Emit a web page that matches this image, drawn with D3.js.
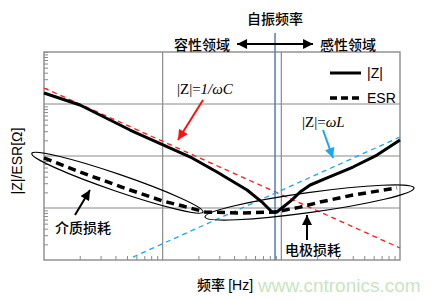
<!DOCTYPE html>
<html>
<head>
<meta charset="utf-8">
<script src="https://cdn.jsdelivr.net/npm/d3@7"></script>
<style>
  body { margin: 0; background: #fff; }
  svg { display: block; }
</style>
</head>
<body>
<svg width="442" height="300"></svg>
<script>
// frequency in MHz, impedance in ohm
const freqZ = [0.01, 0.0201, 0.0531, 0.1007, 0.177, 0.287, 0.514, 0.70, 0.834, 0.918, 1.23, 1.44, 1.75, 2.43, 4.02, 6.4, 10];
const impZ = [16.3, 9.57, 3.16, 1.63, 0.916, 0.492, 0.222, 0.125, 0.0838, 0.0838, 0.143, 0.203, 0.277, 0.378, 0.614, 1.04, 2.03];

const freqESR = [0.01, 0.0201, 0.0531, 0.1007, 0.148, 0.228, 0.449, 0.885, 1.44, 2.12, 4.02, 9.44];
const esr = [0.916, 0.492, 0.222, 0.136, 0.109, 0.0838, 0.080, 0.0838, 0.104, 0.130, 0.178, 0.243];

const capFreq = [0.01, 10];      // |Z| = 1/wC
const capZ = [20.3, 0.017];
const indFreq = [0.0562, 10];    // |Z| = wL
const indZ = [0.0114, 2.32];

const resFreq = 0.885;           // self resonance

// annotation anchors in data units [freq, ohm]
const lossEllipses = [[0.04155, 0.3066], [1.727, 0.1276]];
const arrowTails = [[0.2187, 11.94], [2.244, 3.162], [0.01825, 0.0733], [1.645, 0.02425]];
const arrowTips = [[0.1346, 2.031], [2.725, 0.915], [0.0244, 0.222], [1.645, 0.0733]];
const noteLabels = [[0.01238, 0.033, '介质损耗'], [1.073, 0.01248, '电极损耗']];

function drawChart() {
  const svg = d3.select('svg');
  const margin = { top: 52, right: 42, bottom: 40, left: 44 };
  const width = +svg.attr('width');
  const height = +svg.attr('height');
  const x0 = margin.left, x1 = width - margin.right;
  const y0 = height - margin.bottom, y1 = margin.top;

  const x = d3.scaleLog().domain([0.01, 10]).range([x0, x1]);
  const y = d3.scaleLog().domain([0.01, 100]).range([y0, y1]);

  const cjk = '"Noto Sans CJK SC", sans-serif';
  const sans = '"Liberation Sans", Arial, sans-serif';
  const serif = '"Liberation Serif", "Times New Roman", serif';
  const grey = '#8a8a8a';

  // markers for arrow heads
  const defs = svg.append('defs');
  [['red', '#ff1010'], ['blue', '#1aa7ec'], ['black', '#000']].forEach(([id, c]) => {
    defs.append('marker')
      .attr('id', 'head-' + id)
      .attr('markerUnits', 'userSpaceOnUse')
      .attr('viewBox', '0 0 10 10')
      .attr('refX', 10).attr('refY', 5)
      .attr('markerWidth', 11).attr('markerHeight', 10)
      .attr('orient', 'auto-start-reverse')
      .append('path').attr('d', 'M0,0 L10,5 L0,10 z').attr('fill', c);
  });

  // minor ticks
  const minor = (lo, hi) => {
    const v = [];
    for (let e = lo; e < hi; e++) for (let m = 2; m <= 9; m++) v.push(m * Math.pow(10, e));
    return v;
  };

  svg.append('g')
    .attr('transform', `translate(0,${y0})`)
    .call(d3.axisBottom(x).tickValues(minor(-2, 1)).tickSizeInner(-4).tickSizeOuter(0).tickFormat(''))
    .call(g => g.select('.domain').remove())
    .call(g => g.selectAll('line').attr('stroke', grey));

  svg.append('g')
    .attr('transform', `translate(${x0},0)`)
    .call(d3.axisLeft(y).tickValues(minor(-2, 2).concat([100])).tickSizeInner(-4).tickSizeOuter(0).tickFormat(''))
    .call(g => g.select('.domain').remove())
    .call(g => g.selectAll('line').attr('stroke', grey));

  // grid at decades
  svg.append('g').selectAll('line').data([0.1, 1]).enter().append('line')
    .attr('x1', d => x(d)).attr('x2', d => x(d)).attr('y1', y0).attr('y2', y1)
    .attr('stroke', grey).attr('stroke-width', 1.2);
  svg.append('g').selectAll('line').data([0.1, 1, 10]).enter().append('line')
    .attr('y1', d => y(d)).attr('y2', d => y(d)).attr('x1', x0).attr('x2', x1)
    .attr('stroke', grey).attr('stroke-width', 1.2);

  svg.append('rect')
    .attr('x', x0).attr('y', y1).attr('width', x1 - x0).attr('height', y0 - y1)
    .attr('fill', 'none').attr('stroke', grey).attr('stroke-width', 1.4);

  // resonance line
  svg.append('line')
    .attr('x1', x(resFreq)).attr('x2', x(resFreq)).attr('y1', 33).attr('y2', y0)
    .attr('stroke', '#4f7fbf').attr('stroke-width', 1.5);

  const line = d3.line().x(d => x(d[0])).y(d => y(d[1]));
  const pairs = (f, v) => f.map((d, i) => [d, v[i]]);

  svg.append('path').datum(pairs(capFreq, capZ)).attr('d', line)
    .attr('fill', 'none').attr('stroke', '#ff1a1a').attr('stroke-width', 1.3).attr('stroke-dasharray', '5,4');
  svg.append('path').datum(pairs(indFreq, indZ)).attr('d', line)
    .attr('fill', 'none').attr('stroke', '#1aa7ec').attr('stroke-width', 1.3).attr('stroke-dasharray', '5,4');

  svg.append('path').datum(pairs(freqZ, impZ)).attr('d', line)
    .attr('fill', 'none').attr('stroke', '#000').attr('stroke-width', 3).attr('stroke-linejoin', 'round');
  svg.append('path').datum(pairs(freqESR, esr)).attr('d', line)
    .attr('fill', 'none').attr('stroke', '#000').attr('stroke-width', 3.5).attr('stroke-dasharray', '8,5');

  // loss ellipses
  const ellipseShape = [[90.5, 8.5, 18.9], [105.5, 10, -7.9]];
  svg.append('g').selectAll('ellipse').data(lossEllipses).enter().append('ellipse')
    .attr('cx', 0).attr('cy', 0)
    .attr('rx', (d, i) => ellipseShape[i][0]).attr('ry', (d, i) => ellipseShape[i][1])
    .attr('transform', (d, i) => `translate(${x(d[0])},${y(d[1])}) rotate(${ellipseShape[i][2]})`)
    .attr('fill', 'none').attr('stroke', '#000').attr('stroke-width', 1.2);

  // arrows
  const arrowColor = [['#ff1010', 'red'], ['#1aa7ec', 'blue'], ['#000', 'black'], ['#000', 'black']];
  svg.append('g').selectAll('line').data(arrowTails).enter().append('line')
    .attr('x1', d => x(d[0])).attr('y1', d => y(d[1]))
    .attr('x2', (d, i) => x(arrowTips[i][0])).attr('y2', (d, i) => y(arrowTips[i][1]))
    .attr('stroke', (d, i) => arrowColor[i][0]).attr('stroke-width', 2)
    .attr('marker-end', (d, i) => `url(#head-${arrowColor[i][1]})`);

  svg.append('g').selectAll('text').data(noteLabels).enter().append('text')
    .attr('x', d => x(d[0])).attr('y', d => y(d[1]))
    .attr('font-family', cjk).attr('font-size', 14).attr('font-weight', 500)
    .text(d => d[2]);

  // formula labels
  const f1 = svg.append('text').attr('x', x(0.132)).attr('y', y(15.57))
    .attr('font-family', serif).attr('font-size', 15);
  f1.append('tspan').text('|Z|=');
  f1.append('tspan').attr('font-style', 'italic').text('1/ωC');
  const f2 = svg.append('text').attr('x', x(1.493)).attr('y', y(3.61))
    .attr('font-family', serif).attr('font-size', 15);
  f2.append('tspan').text('|Z|=');
  f2.append('tspan').attr('font-style', 'italic').text('ωL');

  // legend
  const lg = svg.append('g');
  lg.append('line').attr('x1', 330).attr('x2', 361).attr('y1', 73).attr('y2', 73)
    .attr('stroke', '#000').attr('stroke-width', 3);
  lg.append('line').attr('x1', 330).attr('x2', 361).attr('y1', 98).attr('y2', 98)
    .attr('stroke', '#000').attr('stroke-width', 3.5).attr('stroke-dasharray', '7,4');
  lg.append('text').attr('x', 367).attr('y', 78).attr('font-family', sans).attr('font-size', 14).text('|Z|');
  lg.append('text').attr('x', 367).attr('y', 103).attr('font-family', sans).attr('font-size', 14).text('ESR');

  // top labels
  const rx = x(resFreq);
  svg.append('text').attr('x', rx).attr('y', 24).attr('text-anchor', 'middle')
    .attr('font-family', cjk).attr('font-size', 14).attr('font-weight', 500).text('自振频率');
  svg.append('text').attr('x', rx - 45).attr('y', 49.5).attr('text-anchor', 'end')
    .attr('font-family', cjk).attr('font-size', 14).attr('font-weight', 500).text('容性领域');
  svg.append('text').attr('x', rx + 45).attr('y', 49.5)
    .attr('font-family', cjk).attr('font-size', 14).attr('font-weight', 500).text('感性领域');
  svg.append('line').attr('x1', rx - 38).attr('x2', rx + 38).attr('y1', 44).attr('y2', 44)
    .attr('stroke', '#000').attr('stroke-width', 2)
    .attr('marker-start', 'url(#head-black)').attr('marker-end', 'url(#head-black)');

  // axis titles
  svg.append('text')
    .attr('transform', `translate(22,${(y0 + y1) / 2 + 5}) rotate(-90)`)
    .attr('text-anchor', 'middle').attr('font-family', sans).attr('font-size', 14)
    .text('|Z|/ESR[Ω]');
  const xt = svg.append('text').attr('x', (x0 + x1) / 2 + 3).attr('y', 290).attr('text-anchor', 'middle')
    .attr('font-family', cjk).attr('font-size', 14).attr('font-weight', 500);
  xt.append('tspan').text('频率 ');
  xt.append('tspan').attr('font-family', sans).attr('font-weight', 400).text('[Hz]');

  // watermark
  svg.append('text').attr('x', 258).attr('y', 292).attr('font-family', sans).attr('font-size', 19)
    .attr('fill', '#c8e5c0').text('www.cntronics.com');
}

drawChart();
</script>
</body>
</html>
